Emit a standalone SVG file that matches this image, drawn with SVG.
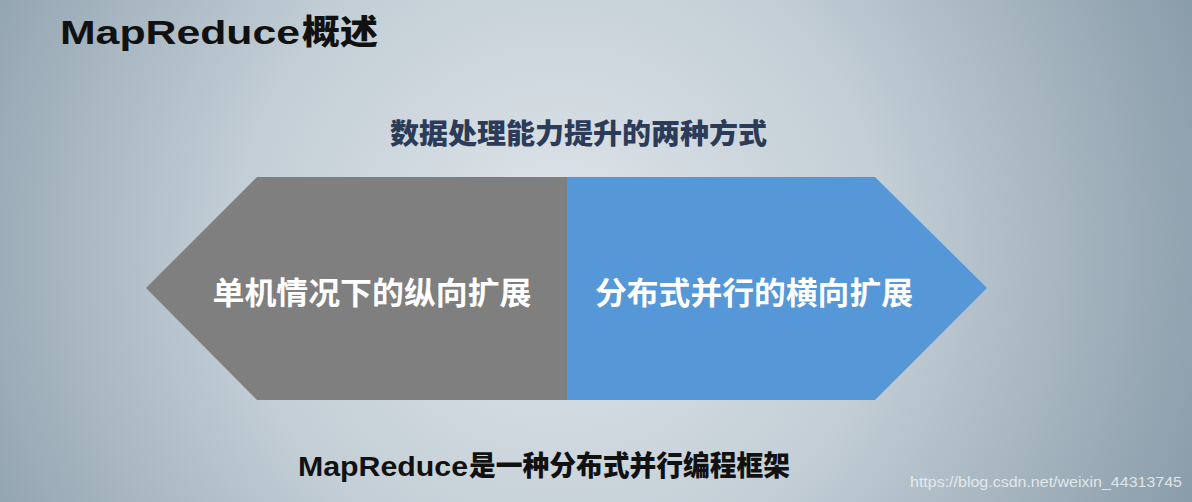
<svg xmlns="http://www.w3.org/2000/svg" width="1192" height="502" viewBox="0 0 1192 502">
  <defs>
    <radialGradient id="bg" cx="560" cy="250" r="720" gradientUnits="userSpaceOnUse">
      <stop offset="0" stop-color="#dfe5ea"/>
      <stop offset="0.45" stop-color="#c3ced6"/>
      <stop offset="1" stop-color="#8397a5"/>
    </radialGradient>
    <style>
      .lat { font-family: "Liberation Sans", "Noto Sans CJK SC", sans-serif; font-weight: 900; }
      .cjk { font-family: "Noto Sans CJK SC", sans-serif; font-weight: 900; }
      .lbl { font-family: "Noto Sans CJK SC", sans-serif; font-weight: 700; font-size: 31px; fill: #ffffff; text-anchor: middle; }
    </style>
  </defs>
  <rect x="0" y="0" width="1192" height="502" fill="url(#bg)"/>

  <g id="title">
    <text class="lat" x="60" y="44" font-size="34" fill="#111111" textLength="240" lengthAdjust="spacingAndGlyphs">MapReduce</text>
    <text class="cjk" x="302" y="44" font-size="34" fill="#111111" textLength="76" lengthAdjust="spacingAndGlyphs">概述</text>
  </g>

  <g id="subtitle">
    <text class="cjk" x="390" y="144" font-size="28" fill="#2b3b58" textLength="377" lengthAdjust="spacingAndGlyphs">数据处理能力提升的两种方式</text>
  </g>

  <g id="node-vertical">
    <polygon points="567,177 257,177 146,288 257,400 567,400" fill="#7f7f7f"/>
    <text class="lbl" x="372" y="304" textLength="319" lengthAdjust="spacingAndGlyphs">单机情况下的纵向扩展</text>
  </g>

  <g id="node-horizontal">
    <polygon points="567,177 875,177 987,288 875,400 567,400" fill="#5697d7"/>
    <text class="lbl" x="754" y="304" textLength="318" lengthAdjust="spacingAndGlyphs">分布式并行的横向扩展</text>
  </g>

  <g id="connectors"></g>

  <g id="footer">
    <text class="lat" x="298" y="476" font-size="28" fill="#111111" textLength="170" lengthAdjust="spacingAndGlyphs">MapReduce</text>
    <text class="cjk" x="469" y="476" font-size="28" fill="#111111" textLength="321" lengthAdjust="spacingAndGlyphs">是一种分布式并行编程框架</text>
  </g>

  <g id="watermark">
    <text x="910" y="487" font-family="Liberation Sans, sans-serif" font-size="15.5" fill="#eef2f5" fill-opacity="0.85" textLength="272" lengthAdjust="spacingAndGlyphs">https://blog.csdn.net/weixin_44313745</text>
  </g>
</svg>
